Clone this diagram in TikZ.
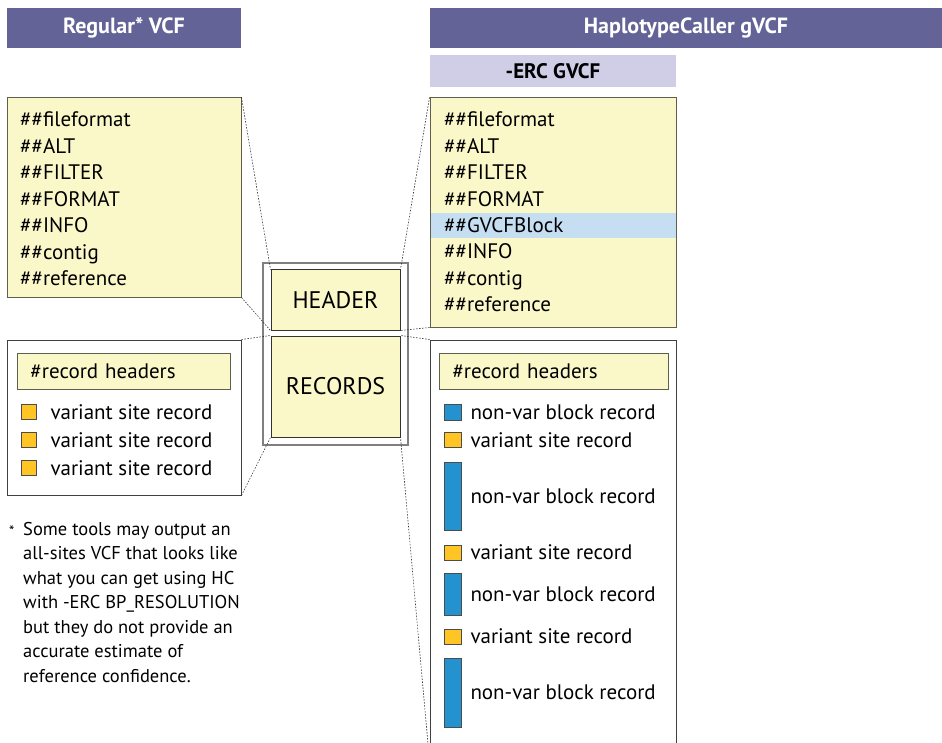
\documentclass[tikz,border=0pt]{standalone}
\usepackage{fontspec}
\setmainfont{PT Sans}
\usetikzlibrary{positioning}
\definecolor{titlepurple}{RGB}{99,99,152}
\definecolor{ercpurple}{RGB}{208,206,230}
\definecolor{hdryellow}{RGB}{250,247,201}
\definecolor{gvcfblue}{RGB}{198,222,242}
\definecolor{nvblue}{RGB}{36,146,206}
\definecolor{vsyellow}{RGB}{255,197,36}
\definecolor{boxedge}{RGB}{95,95,80}

\begin{document}
\begin{tikzpicture}[x=1pt,y=-1pt]
\tikzstyle{every node}+=[inner sep=0pt, font=\fontsize{21}{25}\selectfont]
\tikzstyle{bar}=[fill=titlepurple, text=white, minimum height=40, font=\bfseries\fontsize{22}{26}\selectfont]
\tikzstyle{ybox}=[draw=boxedge, fill=hdryellow, line width=1pt]
\tikzstyle{wbox}=[draw=black!75, line width=1pt]
\tikzstyle{zoomline}=[dash pattern=on 1.5pt off 1.5pt, line width=0.6pt, black!80]
\tikzstyle{item}=[anchor=west, text height=18, text depth=4]
\tikzstyle{sq}=[draw=black!70, line width=0.6pt]
\useasboundingbox (0,0) rectangle (942,743);
\clip (0,0) rectangle (942,743);

\node[bar, minimum width=234] (ltitle) at (124,28) {Regular* VCF};
\node[bar, minimum width=512] (rtitle) at (686,28) {HaplotypeCaller gVCF};
\node[fill=ercpurple, minimum width=246, minimum height=32, font=\bfseries\fontsize{21}{24}\selectfont] (erc) at (553,71) {-ERC GVCF};

\node[ybox, minimum width=234, minimum height=199] (lhdr) at (124,197.5) {};
\node[ybox, minimum width=246, minimum height=229] (rhdr) at (553,212.5) {};
\node[fill=gvcfblue, minimum width=245, minimum height=25] (gband) at (553,225.5) {};
\foreach \t [count=\i] in {fileformat,ALT,FILTER,FORMAT,INFO,contig,reference}
  \node[item] (lh\i) at (20,{120+26.5*(\i-1)}) {\#\#\t};
\foreach \t [count=\i] in {fileformat,ALT,FILTER,FORMAT,GVCFBlock,INFO,contig,reference}
  \node[item] (rh\i) at (444,{120+26.4*(\i-1)}) {\#\#\t};

\node[wbox, minimum width=234, minimum height=155] (lrec) at (124,417.5) {};
\node[wbox, minimum width=246, minimum height=420] (rrec) at (553,550) {};
\node[ybox, anchor=west, inner xsep=13, text width=187, minimum height=36] (lrh) at (17,371) {\#record headers};
\node[ybox, anchor=west, inner xsep=13, text width=203, minimum height=36] (rrh) at (439,371) {\#record headers};

\foreach \y [count=\i] in {412,440,468} {
  \node[sq, fill=vsyellow, minimum size=15] (lsq\i) at (28.5,\y) {};
  \node[item, right=14pt of lsq\i] (lvs\i) {variant site record};
}
\foreach \y/\h/\c/\t [count=\i] in {412/16/nvblue/non-var block record,440/15/vsyellow/variant site record,
    496/68/nvblue/non-var block record,552.5/15/vsyellow/variant site record,594/42/nvblue/non-var block record,
    636.5/15/vsyellow/variant site record,692.5/69/nvblue/non-var block record} {
  \node[sq, fill=\c, minimum width=17, minimum height=\h] (rsq\i) at (452.5,\y) {};
  \node[item, right=9pt of rsq\i] (rt\i) {\t};
}

\node[draw=black!50, line width=1.5pt, minimum width=145, minimum height=182] (outer) at (335.5,354) {};
\node[ybox, draw=black!80, minimum width=129, minimum height=60, font=\fontsize{24}{28}\selectfont] (hdr) at (335.5,300) {HEADER};
\node[ybox, draw=black!80, minimum width=129, minimum height=101, font=\fontsize{24}{28}\selectfont] (rec) at (335.5,386.5) {RECORDS};

\draw[zoomline] (lhdr.north east) -- (hdr.north west);
\draw[zoomline] (lhdr.south east) -- (hdr.south west);
\draw[zoomline] (rhdr.north west) -- (hdr.north east);
\draw[zoomline] (rhdr.south west) -- (hdr.south east);
\draw[zoomline] (lrec.north east) -- (rec.north west);
\draw[zoomline] (lrec.south east) -- (rec.south west);
\draw[zoomline] (rrec.north west) -- (rec.north east);
\draw[zoomline] (rrec.south west) -- (rec.south east);

\node[anchor=north west, font=\fontsize{15}{16}\selectfont] (star) at (9,526) {*};
\node[anchor=north west, align=left, font=\fontsize{18.5}{24.5}\selectfont] (note) at (23,522) {Some tools may output an\\all-sites VCF that looks like\\what you can get using HC\\with -ERC BP\_RESOLUTION\\but they do not provide an\\accurate estimate of\\reference confidence.};
\end{tikzpicture}
\end{document}
